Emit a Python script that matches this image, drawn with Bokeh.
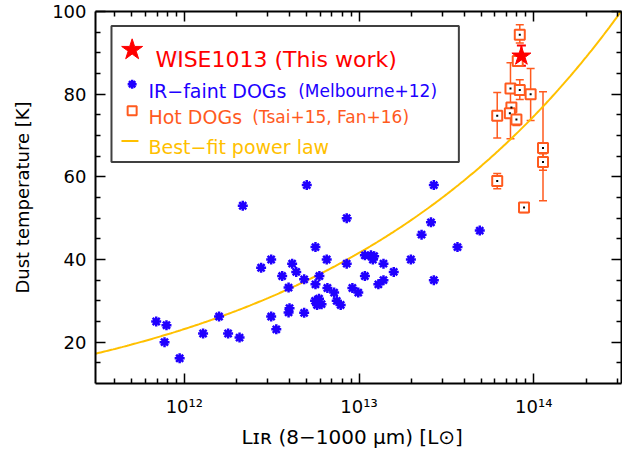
import numpy as np
from bokeh.plotting import figure
from bokeh.models import (Range1d, LinearAxis, LogAxis, FixedTicker, Label,
                          CustomJSTickFormatter, Whisker, ColumnDataSource, TeeHead)
from bokeh.embed import file_html
from bokeh.resources import INLINE

# ---------------- data ----------------
# IR-faint DOGs (Melbourne+12): L_IR [L_sun], T_dust [K]
dog_L = [6.9e11, 7.9e11, 7.7e11, 9.4e11, 9.1e11, 1.28e12, 1.58e12, 1.78e12, 2.07e12, 2.16e12,
         2.75e12, 3.14e12, 3.14e12, 3.36e12, 3.63e12, 3.95e12, 4.14e12, 4.0e12, 3.95e12,
         4.37e12, 4.85e12, 4.85e12, 5.02e12, 5.63e12, 5.63e12, 5.93e12, 5.6e12, 5.75e12,
         6.1e12, 5.9e12, 6.53e12, 6.59e12, 7.2e12, 7.45e12, 7.85e12, 8.5e12, 8.5e12, 9.16e12,
         9.9e12, 1.08e13, 1.08e13, 1.17e13, 1.2e13, 1.22e13, 1.29e13, 1.38e13, 1.38e13,
         1.58e13, 1.98e13, 2.28e13, 2.58e13, 2.68e13, 2.68e13, 3.66e13, 4.91e13]
dog_T = [25.0, 24.1, 20.0, 16.1, 89.5, 22.1, 26.2, 22.1, 21.1, 53.0,
         38.0, 40.0, 26.2, 23.1, 36.0, 33.2, 39.0, 28.2, 27.2,
         37.0, 35.2, 27.1, 58.0, 43.0, 34.0, 36.0, 30.0, 29.0,
         29.2, 30.5, 40.0, 33.1, 32.0, 30.0, 29.0, 50.0, 39.0, 33.1,
         32.0, 36.0, 41.0, 41.0, 40.0, 40.8, 34.0, 35.0, 39.0,
         37.0, 40.0, 46.0, 49.0, 58.0, 35.0, 43.0, 47.0]

# Hot DOGs (Tsai+15, Fan+16)
hot_L = [8.32e13, 8.1e13, 7.36e13, 8.32e13, 9.6e13, 6.18e13, 7.45e13, 7.3e13, 7.96e13,
         1.13e14, 1.13e14, 6.18e13, 8.8e13]
hot_T = [94.4, 88.0, 81.4, 81.0, 80.0, 74.8, 76.8, 75.4, 73.9, 67.0, 63.6, 59.0, 52.6]
hot_T_lo = [92.4, 87.0, 69.2, 78.7, 73.6, 69.4, 75.8, 74.4, 72.4, 54.2, 61.6, 57.1, 51.4]
hot_T_hi = [96.8, 89.0, 87.6, 83.5, 86.2, 80.4, 77.8, 76.4, 74.8, 80.6, 65.6, 60.8, 53.6]

# WISE1013 (This work)
wise_L = [8.5e13]
wise_T = [89.2]
wise_T_lo = [86.9]
wise_T_hi = [91.8]

# Best-fit power law  T = fit_A * (L / fit_L0) ** fit_B
fit_A = 41.6
fit_L0 = 1e13
fit_B = 0.254

x_ticks = [1e12, 1e13, 1e14]
y_ticks = [20, 40, 60, 80, 100]
x_minor = [k * 10.0 ** n for n in (11, 12, 13, 14) for k in range(2, 10)]
y_minor = [15, 25, 30, 35, 45, 50, 55, 65, 70, 75, 85, 90, 95]

x_label = "L\u026a\u0280 (8\u22121000  \u03bcm)  [L\u2299]"
y_label = "Dust temperature [K]"

RED = "#ff0000"
BLUE = "#2000ff"
ORANGE = "#ff5a1e"
GOLD = "#ffc000"
FONT = "DejaVu Sans"

X_MIN, X_MAX = 3.1e11, 3.18e14


def rx(px):
    # picture pixel -> data x (annotation placement only)
    return 10 ** (12 + (px - 184.0) / 175.0)


def ry(py):
    return 20 + (341.7 - py) * 0.24


p = figure(x_axis_type="log", x_range=Range1d(X_MIN, X_MAX), y_range=Range1d(10, 100),
           frame_width=526, frame_height=372, min_border_left=95, min_border_right=1,
           min_border_top=11, min_border_bottom=67, output_backend="svg",
           toolbar_location=None, background_fill_color="white", border_fill_color="white")
p.outline_line_color = None
p.grid.visible = False

blank = CustomJSTickFormatter(code="return ''")
sup_fmt = CustomJSTickFormatter(code="""
const sup = {'0':'\u2070','1':'\u00b9','2':'\u00b2','3':'\u00b3','4':'\u2074','5':'\u2075',
             '6':'\u2076','7':'\u2077','8':'\u2078','9':'\u2079','-':'\u207b'};
const e = Math.round(Math.log10(tick));
return '10' + String(e).split('').map(c => sup[c]).join('');
""")


def style(ax):
    ax.axis_line_width = 2
    ax.axis_line_color = "black"
    ax.major_tick_in = 10
    ax.major_tick_out = 0
    ax.minor_tick_in = 5
    ax.minor_tick_out = 0
    ax.major_tick_line_width = 1.5
    ax.minor_tick_line_width = 1.5
    ax.major_tick_line_color = "black"
    ax.minor_tick_line_color = "black"
    ax.major_label_text_font = FONT
    ax.major_label_text_font_size = "18px"
    ax.major_label_text_color = "black"
    ax.axis_label_text_font = FONT
    ax.axis_label_text_font_size = "20px"
    ax.axis_label_text_font_style = "normal"
    ax.axis_label_text_color = "black"


xa = p.xaxis[0]
xa.ticker = FixedTicker(ticks=x_ticks, minor_ticks=x_minor)
xa.formatter = sup_fmt
style(xa)
xa.major_label_standoff = 12
xa.axis_label = x_label
xa.axis_label_standoff = 5

ya = p.yaxis[0]
ya.ticker = FixedTicker(ticks=y_ticks, minor_ticks=y_minor)
style(ya)
ya.major_label_standoff = 9
ya.axis_label = y_label
ya.axis_label_text_font_size = "18px"
ya.axis_label_standoff = 16

top = LogAxis(ticker=FixedTicker(ticks=x_ticks, minor_ticks=x_minor), formatter=blank)
style(top)
top.major_label_standoff = 0
p.add_layout(top, "above")

right = LinearAxis(ticker=FixedTicker(ticks=y_ticks, minor_ticks=y_minor), formatter=blank)
style(right)
right.major_label_standoff = 0
p.add_layout(right, "right")

# power law
xs = np.logspace(np.log10(X_MIN), np.log10(X_MAX), 300)
p.line(xs, fit_A * (xs / fit_L0) ** fit_B, line_color=GOLD, line_width=2)

# IR-faint DOGs
p.scatter(dog_L, dog_T, marker="asterisk", size=10, line_color=BLUE, line_width=2.5)

# Hot DOGs
hot = ColumnDataSource(dict(L=hot_L, T=hot_T, lo=hot_T_lo, hi=hot_T_hi))
p.add_layout(Whisker(source=hot, base="L", lower="lo", upper="hi", dimension="height",
                     line_color=ORANGE, line_width=1.5,
                     upper_head=TeeHead(size=8, line_color=ORANGE, line_width=1.5),
                     lower_head=TeeHead(size=8, line_color=ORANGE, line_width=1.5)))
p.scatter("L", "T", source=hot, marker="square", size=10, line_color=ORANGE,
          line_width=2, fill_color="white")
p.scatter("L", "T", source=hot, marker="square", size=2, fill_color="black", line_color=None)

# WISE1013
wise = ColumnDataSource(dict(L=wise_L, T=wise_T, lo=wise_T_lo, hi=wise_T_hi))
p.add_layout(Whisker(source=wise, base="L", lower="lo", upper="hi", dimension="height",
                     line_color=RED, line_width=2,
                     upper_head=TeeHead(size=9, line_color=RED, line_width=2),
                     lower_head=TeeHead(size=9, line_color=RED, line_width=2)))
p.scatter("L", "T", source=wise, marker="star", size=20, fill_color=RED, line_color=RED)

# legend box
p.quad(left=[rx(111)], right=[rx(459)], top=[ry(23)], bottom=[ry(160)],
       fill_color="white", fill_alpha=0.9, line_color="#404040", line_width=2)
p.scatter([rx(131.7)], [ry(47)], marker="star", size=22, fill_color=RED, line_color=RED)
p.scatter([rx(131.7)], [ry(81.7)], marker="asterisk", size=9, line_color=BLUE, line_width=2.5)
p.scatter([rx(131.7)], [ry(108.3)], marker="square", size=9, line_color=ORANGE,
          line_width=2, fill_color="white")
p.line([rx(121), rx(138)], [ry(139), ry(139)], line_color=GOLD, line_width=2)

leg = [
    ("WISE1013 (This work)", 155, 56.5, "22px", RED),
    ("IR\u2212faint DOGs", 148, 88.3, "19px", BLUE),
    ("(Melbourne+12)", 298, 88.3, "17px", BLUE),
    ("Hot DOGs", 148, 115, "19px", ORANGE),
    ("(Tsai+15, Fan+16)", 252, 115, "17px", ORANGE),
    ("Best\u2212fit power law", 148, 145, "19px", GOLD),
]
for t, px, py, fs, col in leg:
    p.add_layout(Label(x=rx(px), y=ry(py), text=t, text_font=FONT, text_font_size=fs,
                       text_color=col, text_baseline="alphabetic", text_align="left"))

open("out.html", "w", encoding="utf-8").write(file_html(p, INLINE))
